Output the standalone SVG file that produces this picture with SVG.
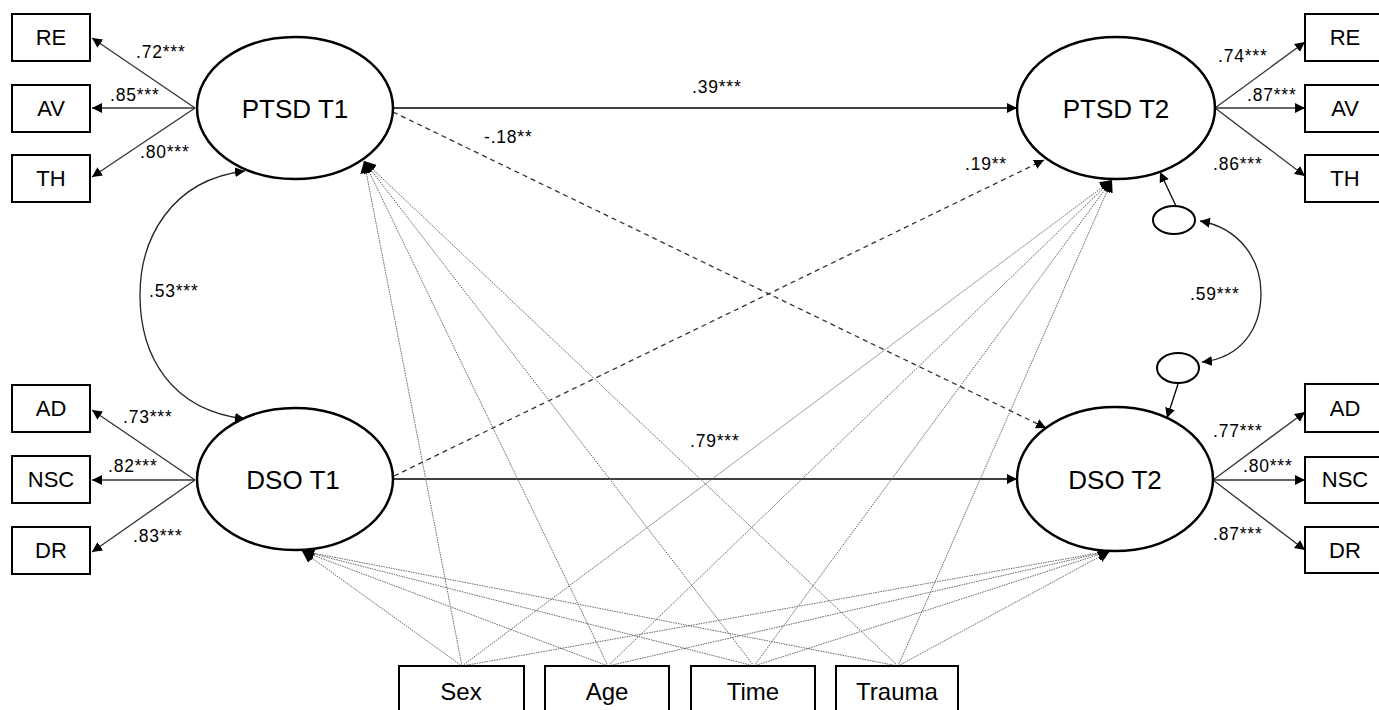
<svg xmlns="http://www.w3.org/2000/svg" width="1379" height="710" viewBox="0 0 1379 710">
<defs>
<marker id="ah" viewBox="0 0 10 10" refX="10" refY="5" markerWidth="10" markerHeight="10" markerUnits="userSpaceOnUse" orient="auto-start-reverse"><path d="M0,0 L10,5 L0,10 Z" fill="#000"/></marker>
<marker id="ahs" viewBox="0 0 10 10" refX="10" refY="5" markerWidth="12" markerHeight="12" markerUnits="userSpaceOnUse" orient="auto"><path d="M0,0 L10,5 L0,10 Z" fill="#000"/></marker>
</defs>
<style>
.lat{fill:#fff;stroke:#000;stroke-width:2.5}
.box{fill:#fff;stroke:#000;stroke-width:2}
.res{fill:#fff;stroke:#000;stroke-width:2}
.big{font-family:"Liberation Sans",Arial,sans-serif;font-size:26px;fill:#000;text-anchor:middle}
.bl{font-family:"Liberation Sans",Arial,sans-serif;font-size:22px;fill:#000;text-anchor:middle}
.cv{font-family:"Liberation Sans",Arial,sans-serif;font-size:24px;fill:#000;text-anchor:middle}
.co{font-family:"Liberation Sans",Arial,sans-serif;font-size:17.5px;fill:#000;letter-spacing:0.8px}
.ind{stroke:#333;stroke-width:1.3;fill:none;marker-end:url(#ah)}
.path{stroke:#000;stroke-width:1.3;fill:none;marker-end:url(#ah)}
.dash{stroke:#333;stroke-width:1.3;fill:none;stroke-dasharray:5,4;marker-end:url(#ah)}
.cov{stroke:#666;stroke-width:1;fill:none;stroke-dasharray:1.5,1;marker-end:url(#ahs)}
.curve{stroke:#222;stroke-width:1.3;fill:none;marker-start:url(#ah);marker-end:url(#ah)}
</style>
<rect width="1379" height="710" fill="#fff"/>
<g id="connectors">
<path class="ind" d="M195,108 L92,38"/>
<path class="ind" d="M195,108 L92,108"/>
<path class="ind" d="M195,108 L92,177"/>
<path class="ind" d="M1215,108 L1305,42"/>
<path class="ind" d="M1215,108 L1305,108"/>
<path class="ind" d="M1215,108 L1305,176"/>
<path class="ind" d="M195,480 L92,410"/>
<path class="ind" d="M195,480 L92,480"/>
<path class="ind" d="M195,480 L92,552"/>
<path class="ind" d="M1213,480 L1305,412"/>
<path class="ind" d="M1213,480 L1305,480"/>
<path class="ind" d="M1213,480 L1305,550"/>
<path class="path" d="M393,108 L1017,108"/>
<path class="path" d="M393,479 L1017,479"/>
<path class="dash" d="M393,112 L1046,428"/>
<path class="dash" d="M394,476 L1044,160"/>
<path class="curve" d="M245,171 C170,180 140,240 140,295 C140,355 170,410 245,419"/>
<path class="curve" d="M1200,221 C1240,228 1261,260 1261,293 C1261,330 1240,358 1202,362"/>
<path class="path" d="M1176,206 L1160,172"/>
<path class="path" d="M1178,384 L1167,418"/>
<path class="cov" d="M462,666 L364,161"/>
<path class="cov" d="M608,666 L364,161"/>
<path class="cov" d="M754,666 L364,161"/>
<path class="cov" d="M898,666 L364,161"/>
<path class="cov" d="M462,666 L302,551"/>
<path class="cov" d="M608,666 L302,551"/>
<path class="cov" d="M754,666 L302,551"/>
<path class="cov" d="M898,666 L302,551"/>
<path class="cov" d="M462,666 L1112,180"/>
<path class="cov" d="M608,666 L1112,180"/>
<path class="cov" d="M754,666 L1112,180"/>
<path class="cov" d="M898,666 L1112,180"/>
<path class="cov" d="M462,666 L1110,551"/>
<path class="cov" d="M608,666 L1110,551"/>
<path class="cov" d="M754,666 L1110,551"/>
<path class="cov" d="M898,666 L1110,551"/>
<text class="co" x="136" y="58">.72***</text>
<text class="co" x="110" y="101">.85***</text>
<text class="co" x="140" y="158">.80***</text>
<text class="co" x="1218" y="62">.74***</text>
<text class="co" x="1247" y="101">.87***</text>
<text class="co" x="1213" y="170">.86***</text>
<text class="co" x="123" y="423">.73***</text>
<text class="co" x="108" y="472">.82***</text>
<text class="co" x="133" y="542">.83***</text>
<text class="co" x="1213" y="437">.77***</text>
<text class="co" x="1243" y="472">.80***</text>
<text class="co" x="1213" y="540">.87***</text>
<text class="co" x="1190" y="300">.59***</text>
<text class="co" x="149" y="297">.53***</text>
<text class="co" x="692" y="93">.39***</text>
<text class="co" x="484" y="143">-.18**</text>
<text class="co" x="965" y="170">.19**</text>
<text class="co" x="690" y="447">.79***</text>
</g>
<g id="ptsd_t1"><ellipse class="lat" cx="295" cy="108" rx="98" ry="71"/><text class="big" x="295" y="118">PTSD T1</text></g>
<g id="ptsd_t2"><ellipse class="lat" cx="1116" cy="108" rx="99" ry="71"/><text class="big" x="1116" y="118">PTSD T2</text></g>
<g id="dso_t1"><ellipse class="lat" cx="295" cy="479" rx="98" ry="71"/><text class="big" x="293" y="489">DSO T1</text></g>
<g id="dso_t2"><ellipse class="lat" cx="1115" cy="479" rx="98" ry="72"/><text class="big" x="1115" y="489">DSO T2</text></g>
<g id="e_ptsd_t2"><ellipse class="res" cx="1174" cy="220" rx="21" ry="14"/></g>
<g id="e_dso_t2"><ellipse class="res" cx="1178" cy="368" rx="21" ry="15"/></g>
<g id="re1"><rect class="box" x="12" y="14" width="78" height="47"/><text class="bl" x="51" y="45">RE</text></g>
<g id="av1"><rect class="box" x="12" y="85" width="78" height="47"/><text class="bl" x="51" y="116">AV</text></g>
<g id="th1"><rect class="box" x="12" y="155" width="78" height="47"/><text class="bl" x="51" y="186">TH</text></g>
<g id="ad1"><rect class="box" x="12" y="385" width="78" height="47"/><text class="bl" x="51" y="416">AD</text></g>
<g id="nsc1"><rect class="box" x="12" y="456" width="78" height="47"/><text class="bl" x="51" y="487">NSC</text></g>
<g id="dr1"><rect class="box" x="12" y="527" width="78" height="47"/><text class="bl" x="51" y="558">DR</text></g>
<g id="re2"><rect class="box" x="1305" y="14" width="80" height="47"/><text class="bl" x="1345" y="45">RE</text></g>
<g id="av2"><rect class="box" x="1305" y="85" width="80" height="47"/><text class="bl" x="1345" y="116">AV</text></g>
<g id="th2"><rect class="box" x="1305" y="155" width="80" height="47"/><text class="bl" x="1345" y="186">TH</text></g>
<g id="ad2"><rect class="box" x="1305" y="384" width="80" height="48"/><text class="bl" x="1345" y="416">AD</text></g>
<g id="nsc2"><rect class="box" x="1305" y="457" width="80" height="46"/><text class="bl" x="1345" y="487">NSC</text></g>
<g id="dr2"><rect class="box" x="1305" y="527" width="80" height="46"/><text class="bl" x="1345" y="558">DR</text></g>
<g id="sex"><rect class="box" x="399" y="666" width="125" height="60"/><text class="cv" x="461" y="700">Sex</text></g>
<g id="age"><rect class="box" x="545" y="666" width="124" height="60"/><text class="cv" x="607" y="700">Age</text></g>
<g id="time"><rect class="box" x="691" y="666" width="124" height="60"/><text class="cv" x="753" y="700">Time</text></g>
<g id="trauma"><rect class="box" x="836" y="666" width="122" height="60"/><text class="cv" x="897" y="700">Trauma</text></g>
</svg>
